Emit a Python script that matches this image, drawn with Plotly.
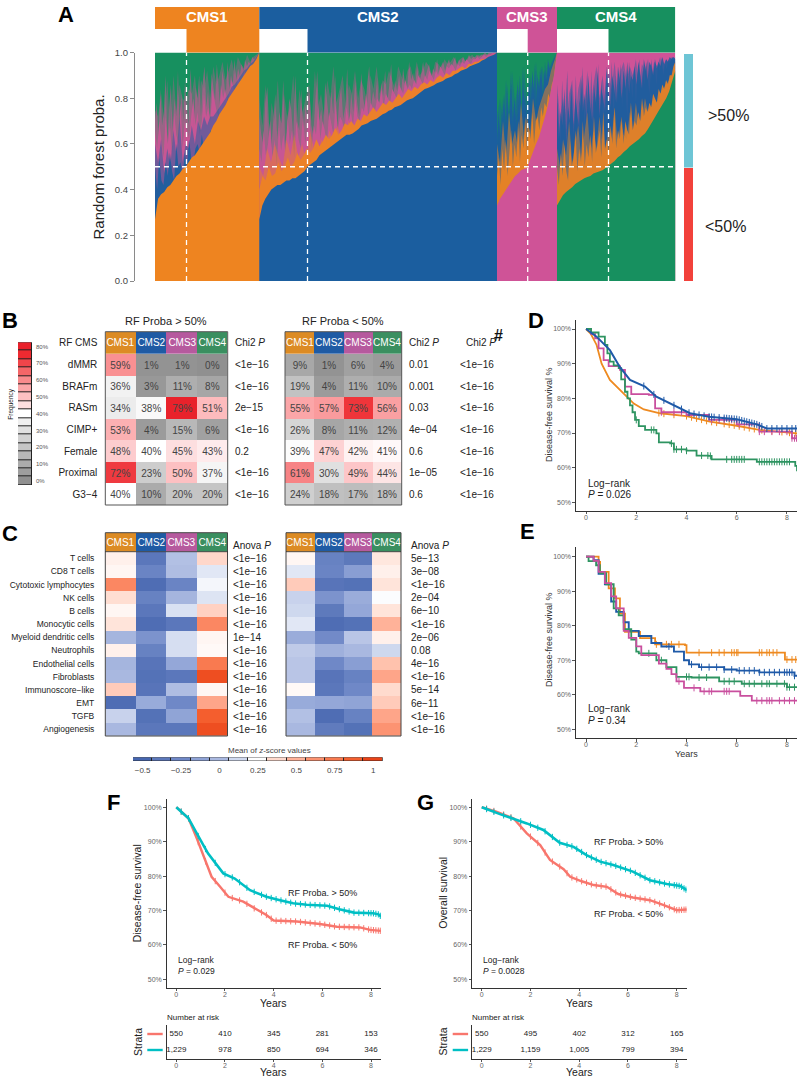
import numpy as np
import plotly.graph_objects as go

W, H = 797, 1078
FONT = "Liberation Sans"
MINUS = "\u2212"

# ---------- Panel A data ----------
CMS = ["CMS1", "CMS2", "CMS3", "CMS4"]
A_COL = {"o": "238,132,32", "b": "27,94,159", "p": "207,83,151", "g": "23,144,95"}
GROUP_WIDTH = [104.3, 237.7, 60.0, 118.3]
THRESHOLD = [31.5, 152.5, 372.7, 453.5]

c1_orange = [.27,.36,.38,.39,.41,.42,.44,.46,.47,.49,.50,.52,.54,.55,.57,.59,.61,.63,.65,.68,.70,.73,.75,.77,.80,.82,.84,.86,.88,.90,.92,.94,.95,.97,1.0]
c1_blue = [.60,.52,.62,.47,.58,.50,.66,.55,.72,.52,.60,.58,.68,.60,.70,.66,.72,.68,.72,.72,.74,.76,.78,.80,.82,.85,.86,.88,.90,.92,.93,.95,.96,.98,1.0]
c1_blue2 = [.50,.40,.54,.44,.42,.52,.46,.56,.48,.44,.60,.50,.52,.46,.56,.50,.62,.54,.52,.58,.60,.56,.64,.58,.62,.60,.66,.64,.62,.68,.66,.70,.72,.70,.74,.76,.74,.78,.80,.82,.82,.84,.86,.88,.90,.92,.94,.96,.98,1.0]
c1_pink = [.75,.72,.82,.70,.88,.66,.90,.74,.86,.80,.78,.84,.82,.90,.76,.88,.84,.92,.80,.94,.86,.90,.96,.88,.92,.97,.90,.98,.95,.93,.99,.96,.98,.99,1.0]
c1_pink2 = [.66,.58,.70,.62,.54,.72,.60,.68,.56,.74,.64,.60,.78,.58,.70,.66,.62,.72,.80,.68,.74,.64,.70,.82,.72,.76,.70,.84,.78,.74,.72,.86,.80,.84,.78,.82,.88,.84,.80,.90,.86,.88,.92,.88,.90,.94,.92,.96,.96,1.0]
c1_pink3 = [.70,.78,.62,.84,.68,.74,.90,.60,.76,.86,.66,.80,.72,.92,.64,.82,.70,.88,.75,.68,.93,.78,.66,.85,.80,.90,.72,.87,.94,.76,.83,.71,.91,.85,.79,.95,.82,.74,.92,.88,.80,.96,.84,.90,.86,.97,.88,.93,.90,.95,.92,.97,.94,.96,.95,.98,.97,.98,.99,1.0]

c2_blue = [.27,.33,.36,.38,.40,.41,.42,.42,.43,.44,.44,.45,.45,.46,.47,.48,.50,.51,.52,.53,.55,.56,.57,.58,.59,.60,.61,.62,.63,.64,.64,.645,.655,.665,.68,.685,.69,.70,.705,.71,.72,.73,.735,.745,.75,.76,.765,.77,.78,.79,.795,.80,.81,.82,.83,.84,.845,.85,.857,.865,.87,.875,.885,.89,.895,.905,.91,.92,.925,.93,.94,.945,.95,.955,.965,.97,.98,.985,.99,1.0]
c2_orange = [.50,.46,.58,.52,.60,.54,.50,.62,.55,.64,.54,.60,.52,.66,.58,.56,.62,.58,.66,.60,.68,.62,.66,.70,.64,.70,.66,.72,.68,.74,.70,.72,.76,.72,.78,.74,.78,.76,.80,.80,.82,.80,.84,.83,.85,.84,.87,.86,.89,.88,.90,.90,.92,.92,.94,.94,.95,.96,.97,.98,.99,1.0]
c2_orange2 = [.40,.46,.44,.50,.46,.47,.52,.48,.50,.54,.50,.52,.56,.53,.55,.58,.56,.58,.62,.59,.61,.64,.62,.64,.67,.64,.66,.69,.68,.70,.68,.71,.70,.73,.72,.74,.76,.74,.76,.78,.77,.79,.78,.80,.82,.80,.82,.84,.83,.85,.84,.86,.87,.86,.88,.87,.89,.90,.89,.91,.90,.92,.92,.93,.94,.93,.95,.95,.96,.96,.97,.97,.98,.98,.99,1.0]
c2_pink = [.80,.68,.86,.62,.78,.70,.88,.66,.82,.72,.76,.90,.68,.84,.74,.80,.86,.70,.92,.76,.82,.72,.88,.80,.94,.78,.84,.90,.76,.86,.82,.92,.80,.88,.84,.78,.90,.84,.94,.82,.88,.86,.92,.88,.84,.94,.90,.86,.92,.94,.88,.96,.90,.92,.96,.94,.90,.96,.95,.93,.97,.95,.96,.98,.95,.97,.98,.96,.98,.99,.97,.99,.98,.99,.99,1.0,1.0,1.0]
c2_pink2 = [.58,.52,.66,.55,.60,.70,.54,.62,.50,.68,.57,.64,.56,.72,.60,.66,.54,.70,.62,.58,.74,.60,.66,.72,.58,.68,.64,.76,.62,.70,.66,.60,.74,.68,.64,.78,.66,.72,.70,.66,.76,.70,.74,.68,.80,.72,.70,.76,.74,.82,.72,.78,.76,.74,.80,.78,.84,.76,.82,.80,.78,.84,.82,.80,.86,.84,.82,.88,.84,.86,.84,.88,.86,.90,.88,.86,.90,.88,.92,.90,.88,.92,.90,.94,.92,.90,.94,.93,.95,.94,.92,.95,.94,.96,.95,.97,.96,.95,.97,.97,.98,.97,.98,.99,.98,.99,.99,1.0,1.0,1.0]
c2_pink3 = [.72,.64,.60,.78,.85,.66,.58,.70,.82,.62,.74,.69,.88,.60,.66,.80,.75,.63,.90,.70,.66,.84,.61,.77,.72,.86,.68,.64,.81,.92,.70,.75,.67,.87,.78,.69,.83,.73,.90,.66,.79,.85,.71,.76,.93,.70,.82,.74,.88,.78,.72,.91,.80,.75,.86,.94,.77,.83,.79,.89,.73,.87,.81,.92,.78,.85,.95,.80,.88,.83,.90,.82,.93,.86,.84,.96,.88,.91,.85,.94,.87,.90,.96,.89,.92,.95,.88,.93,.91,.97,.90,.94,.96,.92,.95,.97,.93,.96,.98,.94,.97,.95,.98,.96,.97,.99,.97,.98,.98,.99,.98,.99,.99,1.0,.99,1.0,1.0,1.0,1.0,1.0]

c3_pink = [.33,.36,.38,.40,.42,.44,.46,.47,.485,.49,.495,.53,.57,.60,.63,.67,.72,.77,.84,.90,1.0]
c3_orange = [.60,.52,.70,.54,.74,.60,.66,.58,.78,.62,.72,.64,.80,.70,.76,.80,.84,.86,.92,.96,1.0]
c3_orange2 = [.46,.54,.42,.58,.48,.62,.46,.56,.66,.50,.60,.54,.70,.52,.64,.58,.72,.56,.68,.62,.74,.60,.70,.72,.66,.76,.72,.78,.76,.82,.80,.86,.88,.94,1.0]
c3_blue = [.72,.80,.68,.88,.74,.92,.78,.86,.70,.94,.76,.90,.82,.96,.80,.94,.88,.97,.92,.98,1.0]
c3_blue2 = [.62,.74,.60,.70,.82,.66,.76,.62,.86,.70,.80,.68,.74,.90,.72,.84,.78,.70,.88,.76,.92,.82,.74,.90,.84,.94,.80,.92,.86,.96,.90,.94,.96,.98,1.0]
c3_blue3 = [.58,.70,.64,.80,.60,.74,.86,.66,.92,.62,.78,.70,.88,.74,.64,.94,.72,.84,.68,.90,.78,.72,.95,.82,.76,.92,.86,.80,.96,.88,.92,.94,.96,.97,.98,1.0]

c4_green = [.33,.355,.376,.39,.40,.41,.425,.434,.44,.45,.455,.46,.47,.475,.48,.485,.495,.504,.515,.525,.54,.55,.565,.575,.59,.60,.61,.62,.635,.646,.665,.69,.71,.733,.755,.78,.80,.83,.87,.92]
c4_orange = [.58,.50,.62,.55,.70,.52,.60,.68,.54,.64,.74,.56,.66,.58,.72,.60,.56,.68,.62,.76,.60,.70,.64,.62,.74,.66,.78,.68,.72,.80,.74,.76,.80,.78,.82,.84,.86,.88,.90,.94]
c4_orange2 = [.50,.42,.56,.46,.60,.48,.44,.62,.50,.54,.66,.48,.58,.52,.70,.50,.60,.54,.64,.52,.72,.56,.60,.66,.54,.74,.58,.62,.56,.68,.60,.76,.58,.66,.62,.72,.60,.70,.66,.64,.78,.66,.70,.68,.74,.70,.80,.72,.76,.74,.78,.76,.82,.80,.78,.84,.82,.86,.84,.88,.86,.90,.90,.94,.96]
c4_blue = [.86,.72,.80,.66,.82,.88,.70,.84,.90,.76,.92,.74,.86,.94,.80,.90,.78,.94,.84,.96,.82,.92,.96,.88,.94,.90,.97,.86,.95,.92,.97,.88,.96,.94,.98,.92,.97,.95,.98,.97]
c4_blue2 = [.78,.62,.74,.68,.84,.60,.76,.70,.86,.64,.80,.72,.66,.88,.74,.82,.68,.90,.76,.70,.86,.78,.92,.72,.84,.80,.74,.94,.82,.76,.90,.84,.78,.94,.86,.80,.92,.84,.96,.82,.90,.88,.94,.86,.96,.90,.84,.97,.92,.88,.96,.94,.90,.97,.93,.96,.94,.98,.95,.97,.96,.98,.97,.98,.97]
c4_blue3 = [.82,.70,.60,.88,.66,.76,.92,.62,.84,.72,.68,.90,.64,.80,.74,.94,.66,.86,.78,.70,.92,.64,.82,.76,.95,.72,.88,.68,.84,.93,.74,.80,.96,.70,.90,.78,.86,.95,.76,.92,.84,.72,.96,.88,.80,.94,.78,.90,.97,.84,.92,.86,.96,.88,.82,.97,.90,.94,.86,.96,.92,.98,.90,.95,.93,.97,.96,.98,.97,.98]

A_LAYERS = [
    [("g", [1, 1], 1), ("p", c1_pink, .35), ("p", c1_pink3, .55), ("p", c1_pink2, .85), ("b", c1_blue, .5), ("b", c1_blue2, .9), ("o", c1_orange, 1)],
    [("g", [1, 1], 1), ("p", c2_pink, .35), ("p", c2_pink3, .55), ("p", c2_pink2, .85), ("o", c2_orange, .45), ("o", c2_orange2, .9), ("b", c2_blue, 1)],
    [("g", [1, 1], 1), ("b", c3_blue, .4), ("b", c3_blue3, .6), ("b", c3_blue2, .85), ("o", c3_orange, .5), ("o", c3_orange2, .9), ("p", c3_pink, 1)],
    [("p", [1, 1], 1), ("b", c4_blue, .4), ("b", c4_blue3, .6), ("b", c4_blue2, .85), ("o", c4_orange, .45), ("o", c4_orange2, .85), ("g", c4_green, 1)],
]

# ---------- Panel B data ----------
B_ROWS = ["dMMR", "BRAFm", "RASm", "CIMP+", "Female", "Proximal", f"G3{MINUS}4"]
B_LEFT = [[59, 1, 1, 0], [36, 3, 11, 8], [34, 38, 79, 51], [53, 4, 15, 6], [48, 40, 45, 43], [72, 23, 50, 37], [40, 10, 20, 20]]
B_RIGHT = [[9, 1, 6, 4], [19, 4, 11, 10], [55, 57, 73, 56], [26, 8, 11, 12], [39, 47, 42, 41], [61, 30, 49, 44], [24, 18, 17, 18]]
LT = f"<1e{MINUS}16"
CHI_L = [LT, LT, f"2e{MINUS}15", LT, "0.2", LT, LT]
CHI_R = ["0.01", "0.001", "0.03", f"4e{MINUS}04", "0.6", f"1e{MINUS}05", "0.6"]
CHI_H = [LT] * 7
FREQ_LEVELS = list(range(0, 85, 5))
FREQ_COLORS = ["#909090", "#9E9E9E", "#ABABAB", "#B8B8B8", "#C5C5C5", "#D2D2D2", "#E0E0E0", "#EFEFEF", "#FFFFFF",
               "#FDDEDF", "#FDC0C2", "#FBA6A8", "#F88A8C", "#F46668", "#F0454A", "#EE2A30", "#E8202A"]

# ---------- Panel C data ----------
C_ROWS = ["T cells", "CD8 T cells", "Cytotoxic lymphocytes", "NK cells", "B cells", "Monocytic cells",
          "Myeloid dendritic cells", "Neutrophils", "Endothelial cells", "Fibroblasts", f"Immunoscore{MINUS}like",
          "EMT", "TGFB", "Angiogenesis"]
C_LEFT = [[.30, -.38, .03, .38], [.28, -.28, .02, .17], [.68, -.45, -.28, .22], [.36, -.30, -.02, .16],
          [.28, -.38, .15, .40], [.34, -.45, -.38, .68], [-.02, -.20, .14, .28], [.30, -.30, .14, .27],
          [-.02, -.40, -.10, .75], [.00, -.42, -.38, .95], [.42, -.40, .02, .28], [-.45, -.08, -.25, .55],
          [.10, -.42, -.12, .88], [.00, -.38, -.38, .95]]
C_RIGHT = [[.28, -.30, -.37, .33], [.17, -.28, -.15, .30], [.42, -.40, -.42, .34], [.10, -.20, -.07, .24],
           [.12, -.36, -.10, .34], [.17, -.45, -.42, .50], [-.07, -.24, .05, .30], [.07, -.05, .00, .12],
           [.05, -.25, -.15, .45], [.05, -.40, -.30, .55], [.27, -.38, -.25, .37], [-.08, -.10, -.12, .42],
           [.03, -.45, -.30, .55], [.00, -.35, -.42, .62]]
ANOVA_L = [LT] * 6 + [f"1e{MINUS}14"] + [LT] * 7
ANOVA_R = [f"5e{MINUS}13", f"3e{MINUS}08", LT, f"2e{MINUS}04", f"6e{MINUS}10", LT, f"2e{MINUS}06", "0.08",
           f"4e{MINUS}16", LT, f"5e{MINUS}14", f"6e{MINUS}11", LT, LT]
Z_LEVELS = [-.5, -.375, -.25, -.125, 0, .125, .25, .375, .5, .625, .75, .875, 1]
Z_COLORS = ["#4666B0", "#5C78BB", "#6F88C7", "#8FA3D6", "#A9B8E0", "#D0D9EF", "#FFFFFF",
            "#FFD9CC", "#FFB299", "#FC9270", "#F97A50", "#F45F2F", "#EA4318"]

# ---------- Survival data ----------
KM_COL = {"o": "#EE8A20", "b": "#1F5AA8", "p": "#C94F9E", "g": "#2E9461"}
D_ORANGE = ([0, .2, .42, .62, .95, 1.5, 1.9, 2.3, 2.95, 4.0, 4.93, 6.0, 6.9, 8.4], [100, 98.5, 95.4, 90, 85.3, 81.4, 78.5, 76.8, 75.7, 74.9, 73.3, 72.1, 70.9, 69.9])
D_PINK = ([0, .2, .36, .5, .7, .9, 1.35, 1.55, 1.8, 2.5, 2.75, 3, 3.6, 4, 4.9, 6, 6.9, 8, 8.2, 8.4], [100, 98.5, 97.3, 94.4, 91, 89.3, 88.2, 83.4, 81.2, 81, 77.1, 76, 76, 75.2, 73.8, 72.5, 70.4, 70.4, 68.5, 68.5])
D_GREEN = ([0, .2, .5, .75, .85, .95, 1.1, 1.3, 1.4, 1.55, 1.65, 1.75, 1.85, 1.95, 2.1, 2.35, 2.8, 2.9, 3.35, 3.5, 4, 4.4, 4.87, 5, 6.4, 6.8, 8.25, 8.33, 8.4],
           [100, 99, 97.8, 95.4, 93, 90.6, 89.5, 88.7, 85.5, 81.9, 80, 78, 76, 73.8, 72, 70.9, 69.9, 67.3, 67, 65.3, 64.9, 63.5, 63.4, 62.4, 62.4, 61.7, 61.7, 60.5, 59])
D_BLUE = ([0, .42, .95, 1.35, 1.75, 2.35, 2.8, 3.5, 4.14, 4.9, 6, 6.8, 7.2, 8.4], [100, 97.8, 93.9, 89, 85.3, 83.4, 80.5, 78, 75.7, 74.7, 74, 72.5, 71.3, 71.3])
D_CENS = {
    "o": [2.9, 3.1, 3.5, 4.0, 4.2, 4.4, 4.6, 4.8, 5.0, 5.2, 5.5, 5.7, 5.9, 6.1, 6.3, 6.5, 6.7, 7.0, 7.4, 7.8, 8.1, 8.35],
    "p": [3.0, 3.5, 3.8, 5.0, 5.3, 5.5, 5.8, 6.1, 6.5, 6.9, 7.1, 7.4, 7.7, 8.0, 8.2, 8.3, 8.38],
    "g": [2.0, 2.6, 2.7, 3.4, 3.5, 3.6, 3.8, 4.0, 4.6, 4.85, 4.95, 5.6, 5.8, 5.9, 6.0, 6.1, 6.2, 6.3, 6.9, 7.0, 7.1, 7.2, 7.3, 7.4, 7.5, 7.6, 7.7, 7.8, 7.9, 8.0, 8.1],
    "b": [2.3, 2.7, 3.1, 3.5, 3.8, 4.1, 4.3, 4.5, 4.7, 4.9, 5.0, 5.1, 5.3, 5.5, 5.6, 5.7, 5.8, 5.9, 6.0, 6.1, 6.2, 6.3, 6.4, 6.5, 6.6, 6.7, 6.8, 6.9, 7.0, 7.2, 7.4, 7.6, 7.8, 8.0, 8.2, 8.35],
}
E_ORANGE = ([0, .4, .5, .56, .9, 1.15, 1.35, 1.55, 2.08, 2.15, 2.7, 2.75, 3.94, 4.0, 7.85, 7.92, 8.4], [100, 100, 98.5, 95.6, 90.8, 87.9, 83.5, 78.2, 78.2, 76.4, 76.4, 74.6, 74.4, 72.2, 72.2, 70.2, 70.2])
E_BLUE = ([0, .3, .5, .75, 1, 1.2, 1.5, 1.7, 2.1, 2.6, 3, 3.5, 3.9, 4.1, 4.5, 5.5, 6, 6.9, 8.3, 8.4], [100, 99, 95, 92, 87, 84, 81, 78.5, 77, 75, 74, 72.5, 70, 68.8, 68, 67.3, 67, 66.5, 65.5, 65.5])
E_GREEN = ([0, .1, .4, .55, .8, 1.1, 1.3, 1.5, 1.8, 2.0, 2.1, 2.4, 2.8, 3.2, 3.6, 4.2, 5.3, 6.2, 7.7, 8.0, 8.4], [100, 98.7, 97.5, 95.2, 92, 85, 83, 79, 76, 72.5, 72, 72, 70, 68, 65.2, 65, 63.9, 63.2, 63.2, 62.2, 62.2])
E_PINK = ([0, .3, .5, .75, 1, 1.2, 1.5, 1.7, 2, 2.2, 2.6, 2.9, 3.2, 3.4, 3.6, 3.9, 4.4, 4.55, 6.08, 6.14, 6.55, 6.6, 8.4], [100, 98.8, 95.6, 92.3, 88.5, 85, 78.5, 76.5, 74, 71.5, 71.5, 69, 67.5, 66, 63.9, 62, 62, 61, 61, 59.7, 59.7, 58.3, 58.3])
E_CENS = {
    "o": [2.8, 3.2, 3.4, 3.7, 4.5, 5.0, 5.3, 5.5, 5.8, 5.9, 6.0, 6.05, 6.9, 7.0, 7.2, 7.3, 7.45, 7.6, 8.0, 8.2, 8.35],
    "b": [3.3, 4.2, 4.6, 4.9, 5.2, 5.5, 5.8, 6.1, 6.3, 6.5, 6.7, 6.9, 7.1, 7.3, 7.5, 7.7, 7.9, 8.0, 8.1, 8.2, 8.3],
    "g": [2.5, 3.0, 4.0, 4.1, 4.5, 4.8, 5.5, 5.7, 5.9, 6.3, 6.5, 6.7, 7.0, 7.2, 7.3, 7.6, 7.9, 8.0, 8.1, 8.3],
    "p": [3.7, 4.3, 4.7, 4.9, 5.0, 5.5, 5.6, 5.7, 6.8, 7.0, 7.2, 7.3, 7.4, 7.7, 7.9, 8.1, 8.3],
}
RED, TEAL = "#F8766D", "#00BFC4"
F_TEAL = ([0, .5, .84, 1.3, 1.93, 2.4, 3.03, 3.7, 4.26, 4.8, 5.36, 6.2, 6.7, 7.3, 8.1, 8.3, 8.41], [100, 96.8, 92.4, 86.6, 80.8, 79.3, 75.9, 74, 73, 72.1, 71.7, 71.4, 70.4, 69.4, 69.2, 68.9, 68.3])
F_RED = ([0, .5, .84, 1.1, 1.45, 1.8, 2.14, 2.75, 3.3, 3.7, 4, 4.95, 5.9, 6.6, 7.55, 7.96, 8.41], [100, 96.8, 91, 86.1, 79.8, 76.9, 74, 72.6, 70.2, 68.7, 67.1, 66.8, 66.1, 65.3, 65.1, 64.4, 64.1])
G_TEAL = ([0, .75, 1.85, 2.53, 3.2, 3.77, 4.3, 4.86, 5.4, 6.2, 6.9, 7.6, 8.15, 8.42], [100, 98, 95.3, 93.4, 89.7, 88.5, 86.1, 84.2, 83.2, 81.3, 78.8, 77.7, 77.1, 75.9])
G_RED = ([0, .6, 1.3, 1.85, 2.4, 2.8, 3.36, 3.63, 4.1, 4.6, 5.14, 5.6, 6.2, 6.9, 7.47, 8, 8.42], [100, 98.7, 96.8, 92.4, 89, 84.7, 82, 79.8, 78.5, 77.4, 76.9, 74.8, 73.8, 73, 71.6, 70.1, 70.3])
CENS_DENSE = [.2, .5, .9, 1.2, 1.6, 2.0, 2.3, 2.6, 2.9, 3.2, 3.5, 3.7, 3.9, 4.1, 4.3, 4.5, 4.7, 4.9, 5.1, 5.3, 5.5, 5.7, 5.9, 6.1, 6.3, 6.5, 6.7, 6.9, 7.1, 7.3, 7.5, 7.7, 7.9, 8.0, 8.1, 8.2, 8.3, 8.38]
RISK_YEARS = [0, 2, 4, 6, 8]
F_RISK = (["550", "410", "345", "281", "153"], ["1,229", "978", "850", "694", "346"])
G_RISK = (["550", "495", "402", "312", "165"], ["1,229", "1,159", "1,005", "799", "394"])
PCT_VALS = [50, 60, 70, 80, 90, 100]
PCT_TEXT = ["50%", "60%", "70%", "80%", "90%", "100%"]

# ---------- helpers ----------
fig = go.Figure()
layout_axes = {}
shapes, annos = [], []
_n = [0]


def px(x):
    return x / W


def py(y):
    return 1 - y / H


def axes(x0, x1, y0, y1, xa=None, ya=None):
    _n[0] += 1
    k = _n[0]
    suffix = "" if k == 1 else str(k)
    base = dict(showgrid=False, zeroline=False, showline=False, ticks="", showticklabels=False)
    xd = dict(base, domain=[px(x0), px(x1)], anchor=f"y{suffix}")
    yd = dict(base, domain=[py(y1), py(y0)], anchor=f"x{suffix}")
    xd.update(xa or {})
    yd.update(ya or {})
    layout_axes[f"xaxis{suffix}"] = xd
    layout_axes[f"yaxis{suffix}"] = yd
    return f"x{suffix}", f"y{suffix}"


def text(x, y, s, size=10, color="#222", anchor="left", bold=False, rot=0):
    if bold:
        s = f"<b>{s}</b>"
    annos.append(dict(x=px(x), y=py(y), xref="paper", yref="paper", text=s, showarrow=False, xanchor=anchor, yanchor="middle",
                      borderpad=0, borderwidth=0, font=dict(family=FONT, size=size, color=color), textangle=rot))


def rect(x0, y0, x1, y1, fill=None, line=None, lw=1, layer="above"):
    shapes.append(dict(type="rect", xref="paper", yref="paper", x0=px(x0), x1=px(x1), y0=py(y1), y1=py(y0),
                       fillcolor=fill or "rgba(0,0,0,0)", line=dict(color=line or "rgba(0,0,0,0)", width=lw if line else 0), layer=layer))


def scale(levels, colors):
    lo, hi = levels[0], levels[-1]
    return [[(v - lo) / (hi - lo), c] for v, c in zip(levels, colors)]


# ---------- Panel A ----------
xA, yA = axes(155, 675.3, 52.5, 281,
              xa=dict(range=[0, sum(GROUP_WIDTH)]),
              ya=dict(range=[0, 1], anchor="free", position=px(134), showline=True, linecolor="#8A8A8A", linewidth=1.2, ticks="outside",
                      ticklen=4, tickcolor="#8A8A8A", showticklabels=True, tickvals=[0, .2, .4, .6, .8, 1],
                      ticktext=["0.0", "0.2", "0.4", "0.6", "0.8", "1.0"], tickfont=dict(family=FONT, size=9.5, color="#444")))
start = 0
A_STARTS = []
for w, layers in zip(GROUP_WIDTH, A_LAYERS):
    A_STARTS.append(start)
    for key, vals, alpha in layers:
        fig.add_trace(go.Scatter(x=np.linspace(start, start + w, len(vals)), y=vals, mode="lines", line=dict(width=0), fill="tozeroy",
                                 fillcolor=f"rgba({A_COL[key]},{alpha})", xaxis=xA, yaxis=yA, hoverinfo="skip", showlegend=False))
    start += w
HEAD_COL = ["rgb(" + A_COL[k] + ")" for k in "obpg"]
for name, s0, w, t, c in zip(CMS, A_STARTS, GROUP_WIDTH, THRESHOLD, HEAD_COL):
    shapes.append(dict(type="rect", xref=xA, yref="paper", x0=s0, x1=s0 + w, y0=py(29), y1=py(7), fillcolor=c, line=dict(width=0)))
    shapes.append(dict(type="rect", xref=xA, yref="paper", x0=t, x1=s0 + w, y0=py(52.5), y1=py(29), fillcolor=c, line=dict(width=0)))
    shapes.append(dict(type="line", xref=xA, yref=yA, x0=t, x1=t, y0=0, y1=1, line=dict(color="white", width=1.3, dash="5px,4px")))
    annos.append(dict(x=s0 + w / 2, y=py(16.7), xref=xA, yref="paper", text=f"<b>{name}</b>", showarrow=False, yanchor="middle", borderpad=0,
                      font=dict(family=FONT, size=15, color="white")))
shapes.append(dict(type="line", xref=xA, yref=yA, x0=0, x1=sum(GROUP_WIDTH), y0=.5, y1=.5, line=dict(color="white", width=1.3, dash="5px,4px")))
rect(684, 54, 693, 167.5, fill="#6EC5D5")
rect(684, 168, 693, 281, fill="#F2413B")
text(707.5, 115, "&gt;50%", 16)
text(705, 226, "&lt;50%", 16)
text(98, 167.5, "Random forest proba.", 15, "#222", "center", rot=-90)
text(58, 15, "A", 22, "#000", bold=True)

# ---------- Panel B ----------
Y_HEAD0, Y_HEAD1, Y_B1 = 331.7, 354, 505
B_SCALE = scale(FREQ_LEVELS, FREQ_COLORS)
HEAD_B = ["#DC8B24", "#1F5BA4", "#B65A9E", "#3A8F60"]
HEAD_SCALE = [[0, HEAD_B[0]], [.25, HEAD_B[0]], [.25, HEAD_B[1]], [.5, HEAD_B[1]], [.5, HEAD_B[2]], [.75, HEAD_B[2]], [.75, HEAD_B[3]], [1, HEAD_B[3]]]


def header(x0, x1, y0, y1):
    xa, ya = axes(x0, x1, y0, y1)
    fig.add_trace(go.Heatmap(z=[[0, 1, 2, 3]], x=CMS, y=[""], text=[CMS], texttemplate="%{text}", textfont=dict(family=FONT, size=10, color="white"),
                             colorscale=HEAD_SCALE, zmin=0, zmax=3, showscale=False, xaxis=xa, yaxis=ya, hoverinfo="skip"))


def body(x0, x1, y0, y1, z, rows, zmin, zmax, cs, labels=None, standoff=7, txt=None):
    ya_opts = dict(autorange="reversed")
    if labels:
        ya_opts.update(showticklabels=True, tickfont=dict(family=FONT, size=labels, color="#222"), ticklabelstandoff=standoff,
                       tickmode="array", tickvals=rows, ticktext=rows)
    xa, ya = axes(x0, x1, y0, y1, ya=ya_opts)
    kw = {}
    if txt is not None:
        kw = dict(text=txt, texttemplate="%{text}", textfont=dict(family=FONT, size=10, color="#444"))
    fig.add_trace(go.Heatmap(z=z, x=CMS, y=rows, colorscale=cs, zmin=zmin, zmax=zmax, showscale=False, xaxis=xa, yaxis=ya, hoverinfo="skip", **kw))


for (x0, x1, vals, lab) in [(105.3, 227.7, B_LEFT, 10), (285, 401.7, B_RIGHT, None)]:
    header(x0, x1, Y_HEAD0, Y_HEAD1)
    body(x0, x1, Y_HEAD1, Y_B1, vals, B_ROWS, 0, 80, B_SCALE, labels=lab, txt=[[f"{v}%" for v in r] for r in vals])
    rect(x0, Y_HEAD0, x1, Y_B1, line="#555", lw=1)
RH = (Y_B1 - Y_HEAD1) / 7
for i in range(7):
    yc = Y_HEAD1 + RH * (i + .5)
    text(235, yc, CHI_L[i].replace("<", "&lt;"), 10)
    text(409, yc, CHI_R[i].replace("<", "&lt;"), 10)
    text(460, yc, CHI_H[i].replace("<", "&lt;"), 10)
text(235, 343, "Chi2 <i>P</i>", 10)
text(409, 343, "Chi2 <i>P</i>", 10)
text(466, 343, "Chi2 <i>P</i>", 10)
text(494, 335, "#", 16, "#111", bold=True)
text(166, 321, "RF Proba &gt; 50%", 11, "#222", "center")
text(343, 321, "RF Proba &lt; 50%", 11, "#222", "center")
text(98, 343, "RF CMS", 10, "#222", "right")
text(2, 320, "B", 22, "#000", bold=True)

# frequency bar
rect(18, 342.3, 32, 485, fill="#222", layer="below")
xa, ya = axes(18, 32, 342.3, 485, ya=dict(range=[-2.5, 82.5], side="right", showticklabels=True, tickvals=list(range(0, 90, 10)),
                                          ticktext=[f"{v}%" for v in range(0, 90, 10)], tickfont=dict(family=FONT, size=6, color="#555"), ticklabelstandoff=3))
fig.add_trace(go.Heatmap(z=[[v] for v in FREQ_LEVELS], y=FREQ_LEVELS, x=[0], colorscale=B_SCALE, zmin=0, zmax=80, ygap=1, xgap=1, showscale=False,
                         xaxis=xa, yaxis=ya, hoverinfo="skip"))
text(10.7, 404, "Frequency", 6.5, "#222", "center", rot=-90)

# ---------- Panel C ----------
Y_CH0, Y_CH1, Y_C1 = 532.7, 551.7, 736
C_SCALE = scale(Z_LEVELS, Z_COLORS)
for (x0, x1, vals, lab) in [(105.3, 227.5, C_LEFT, 8.5), (286, 401, C_RIGHT, None)]:
    header(x0, x1, Y_CH0, Y_CH1)
    body(x0, x1, Y_CH1, Y_C1, vals, C_ROWS, -.5, 1, C_SCALE, labels=lab, standoff=10)
    rect(x0, Y_CH0, x1, Y_C1, line="#444", lw=1)
    shapes.append(dict(type="line", xref="paper", yref="paper", x0=px(x0), x1=px(x1), y0=py(Y_CH1), y1=py(Y_CH1), line=dict(color="#222", width=.8)))
RC = (Y_C1 - Y_CH1) / 14
for i in range(14):
    yc = Y_CH1 + RC * (i + .5)
    text(233, yc, ANOVA_L[i].replace("<", "&lt;"), 10)
    text(411, yc, ANOVA_R[i].replace("<", "&lt;"), 10)
text(233, 545, "Anova <i>P</i>", 10)
text(411, 545, "Anova <i>P</i>", 10)
text(2, 533, "C", 22, "#000", bold=True)

rect(133, 757.3, 382.7, 761, fill="#222", layer="below")
xa, ya = axes(133, 382.7, 757.3, 761,
              xa=dict(range=[-.5625, 1.0625], showticklabels=True, tickvals=Z_LEVELS[::2], ticktext=[f"{MINUS}0.5", f"{MINUS}0.25", "0", "0.25", "0.5", "0.75", "1"],
                      tickfont=dict(family=FONT, size=8, color="#444"), ticks="outside", ticklen=1, tickcolor="rgba(0,0,0,0)"))
fig.add_trace(go.Heatmap(z=[Z_LEVELS], x=Z_LEVELS, y=[0], colorscale=C_SCALE, zmin=-.5, zmax=1, xgap=1, ygap=.6, showscale=False, xaxis=xa, yaxis=ya, hoverinfo="skip"))
text(269, 750, "Mean of <i>z</i>-score values", 8, "#444", "center")


# ---------- Survival ----------
def km_axes(x0, x1, y0, y1, xr, yr, tick_size=7):
    common = dict(showline=True, linecolor="#333", linewidth=1.1, ticks="outside", ticklen=2.5, tickcolor="#555", tickwidth=.8, showticklabels=True,
                  tickfont=dict(family=FONT, size=tick_size, color="#666"))
    return axes(x0, x1, y0, y1, xa=dict(common, range=xr, tickvals=RISK_YEARS, ticktext=[str(v) for v in RISK_YEARS], ticklabelstandoff=-3),
                ya=dict(common, range=yr, tickvals=PCT_VALS, ticktext=PCT_TEXT))


def curve(xa, ya, data, color, shape, width, cens=None, msize=5):
    t, v = data
    fig.add_trace(go.Scatter(x=t, y=v, mode="lines", line=dict(color=color, width=width, shape=shape), xaxis=xa, yaxis=ya, hoverinfo="skip", showlegend=False))
    if cens:
        if shape == "hv":
            yc = [v[max(np.searchsorted(t, c, side="right") - 1, 0)] for c in cens]
        else:
            yc = np.interp(cens, t, v)
        fig.add_trace(go.Scatter(x=cens, y=yc, mode="markers", marker=dict(symbol="line-ns", size=msize, line=dict(color=color, width=1)),
                                 xaxis=xa, yaxis=ya, hoverinfo="skip", showlegend=False))


xa, ya = km_axes(576, 797, 320, 510.7, [-.4, 8.4], [47.6, 102.6])
curve(xa, ya, D_ORANGE, KM_COL["o"], "linear", 1.8, D_CENS["o"])
curve(xa, ya, D_PINK, KM_COL["p"], "hv", 1.8, D_CENS["p"])
curve(xa, ya, D_GREEN, KM_COL["g"], "hv", 1.8, D_CENS["g"])
curve(xa, ya, D_BLUE, KM_COL["b"], "linear", 2.0, D_CENS["b"])
text(549, 415, "Disease-free survival %", 9, "#333", "center", rot=-90)
text(587.5, 483, f"Log{MINUS}rank", 10)
text(587.5, 494, "<i>P</i> = 0.026", 10)
text(528, 320, "D", 22, "#000", bold=True)

xa, ya = km_axes(576, 797, 547.3, 738.3, [-.4, 8.4], [47.4, 102.7])
curve(xa, ya, E_ORANGE, KM_COL["o"], "hv", 1.8, E_CENS["o"])
curve(xa, ya, E_BLUE, KM_COL["b"], "hv", 1.9, E_CENS["b"])
curve(xa, ya, E_GREEN, KM_COL["g"], "hv", 1.8, E_CENS["g"])
curve(xa, ya, E_PINK, KM_COL["p"], "hv", 1.8, E_CENS["p"])
text(549, 640, "Disease-free survival %", 9, "#333", "center", rot=-90)
text(587.5, 708.5, f"Log{MINUS}rank", 10)
text(587.5, 721, "<i>P</i> = 0.34", 10)
text(686, 754, "Years", 9, "#333", "center")
text(520, 532, "E", 22, "#000", bold=True)


def big_km(x0, x1, xr, teal, red, title, p, over_y, under_y, label_cx, risk, leg_x, letter, letter_x, title_x):
    xa, ya = km_axes(x0, x1, 799.3, 987.7, xr, [47.6, 102.3])
    curve(xa, ya, red, RED, "linear", 2.4, CENS_DENSE, 4.5)
    curve(xa, ya, teal, TEAL, "linear", 2.6, CENS_DENSE, 4.5)
    text(label_cx, over_y, "RF Proba. &gt; 50%", 9, "#222", "center")
    text(label_cx, under_y, "RF Proba. &lt; 50%", 9, "#222", "center")
    text(x0 + 11, 960, f"Log{MINUS}rank", 8.5)
    text(x0 + 11, 970.7, f"<i>P</i> = {p}", 8.5)
    text(title_x, 893, title, 10.5, "#222", "center", rot=-90)
    text((x0 + x1) / 2 - .5, 1002.5, "Years", 10.5, "#222", "center")
    text(x0, 1017, "Number at risk", 8, "#222")
    xa2, ya2 = axes(x0, x1, 1025, 1059.3,
                    xa=dict(range=xr, showline=True, linecolor="#333", linewidth=1.1, ticks="outside", ticklen=2, tickcolor="#555", showticklabels=True,
                            tickvals=RISK_YEARS, ticktext=[str(v) for v in RISK_YEARS], tickfont=dict(family=FONT, size=7, color="#666"), ticklabelstandoff=-3),
                    ya=dict(range=[-.58, 1.56], showline=True, linecolor="#333", linewidth=1.1))
    for row, vals in zip([1, 0], risk):
        fig.add_trace(go.Scatter(x=RISK_YEARS, y=[row] * 5, text=vals, mode="text", textfont=dict(family=FONT, size=8, color="#222"),
                                 xaxis=xa2, yaxis=ya2, hoverinfo="skip", showlegend=False, cliponaxis=False))
    for yy, c in [(1034, RED), (1050, TEAL)]:
        shapes.append(dict(type="line", xref="paper", yref="paper", x0=px(leg_x), x1=px(leg_x + 15.4), y0=py(yy), y1=py(yy), line=dict(color=c, width=2.4)))
    text(title_x, 1041.7, "Strata", 10.5, "#222", "center", rot=-90)
    text((x0 + x1) / 2 - .5, 1071.5, "Years", 10.5, "#222", "center")
    text(letter_x, 802, letter, 22, "#000", bold=True)


big_km(166.7, 381, [-.395, 8.41], F_TEAL, F_RED, "Disease-free survival", "0.029", 893, 944.7, 322.7, F_RISK, 147.3, "F", 107, 137.3)
big_km(472.3, 686.7, [-.386, 8.41], G_TEAL, G_RED, "Overall survival", "0.0028", 841.7, 914, 628, G_RISK, 452.7, "G", 417, 442.7)

fig.update_layout(width=W, height=H, margin=dict(l=0, r=0, t=0, b=0, autoexpand=False), autosize=False, paper_bgcolor="white", plot_bgcolor="rgba(0,0,0,0)",
                  showlegend=False, shapes=shapes, annotations=annos, font=dict(family=FONT), **layout_axes)
fig.write_html("out.html", config={"displayModeBar": False}, post_script="document.body.style.margin='0';")
